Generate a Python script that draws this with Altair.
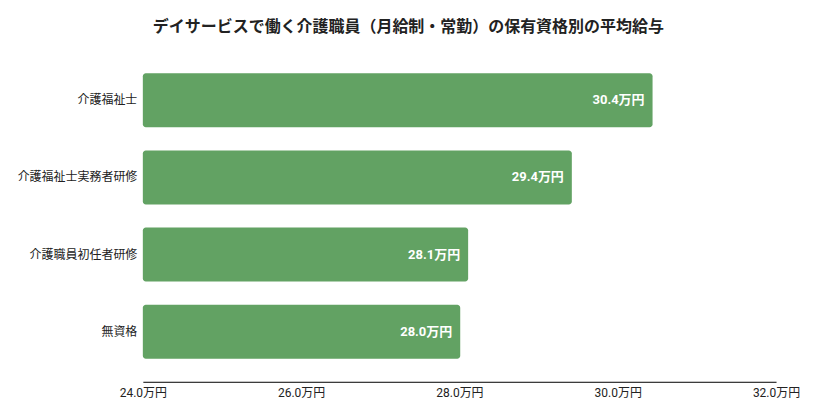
import altair as alt
import pandas as pd

qualifications = ['介護福祉士', '介護福祉士実務者研修', '介護職員初任者研修', '無資格']
salaries = [30.44, 29.42, 28.11, 28.01]
axis_min = 24
axis_max = 32

FONT = 'Roboto, Noto Sans CJK JP'

df = pd.DataFrame({'qualification': qualifications, 'salary': salaries})

base = alt.Chart(df).transform_calculate(
	label="format(datum.salary, '.1f') + '万円'",
	start=str(axis_min)
).encode(
	y=alt.Y('qualification:N', sort=qualifications, title=None,
			scale=alt.Scale(paddingInner=0.3, paddingOuter=0.3),
			axis=alt.Axis(domain=False, ticks=False, labelPadding=6, labelFontSize=12,
						  labelColor='#222', labelFont=FONT, labelLimit=300)),
	x=alt.X('salary:Q', title=None,
			scale=alt.Scale(domain=[axis_min, axis_max], nice=False, zero=False),
			axis=alt.Axis(values=[24, 26, 28, 30, 32], grid=False, ticks=False,
						  domainColor='#000', domainWidth=1, labelPadding=6,
						  labelFlush=False,
						  labelFontSize=12, labelColor='#222', labelFont=FONT,
						  labelExpr="format(datum.value, '.1f') + '万円'"))
)

bars = base.mark_bar(color='#62a263', cornerRadius=3).encode(x2='start:Q')

text = base.mark_text(align='right', dx=-8, color='white', fontSize=13,
					  fontWeight='bold', font=FONT).encode(
	text='label:N'
)

chart = (bars + text).properties(
	width=634,
	height=332,
	background='white',
	padding={'left': 8, 'top': 11, 'right': 5, 'bottom': 5},
	title=alt.Title('デイサービスで働く介護職員（月給制・常勤）の保有資格別の平均給与',
					fontSize=16, fontWeight='bold', color='#222', font=FONT,
					anchor='middle', frame='bounds', offset=15)
).configure_view(stroke=None)

chart.save("out.html", embed_options={"renderer": "svg", "actions": False})
